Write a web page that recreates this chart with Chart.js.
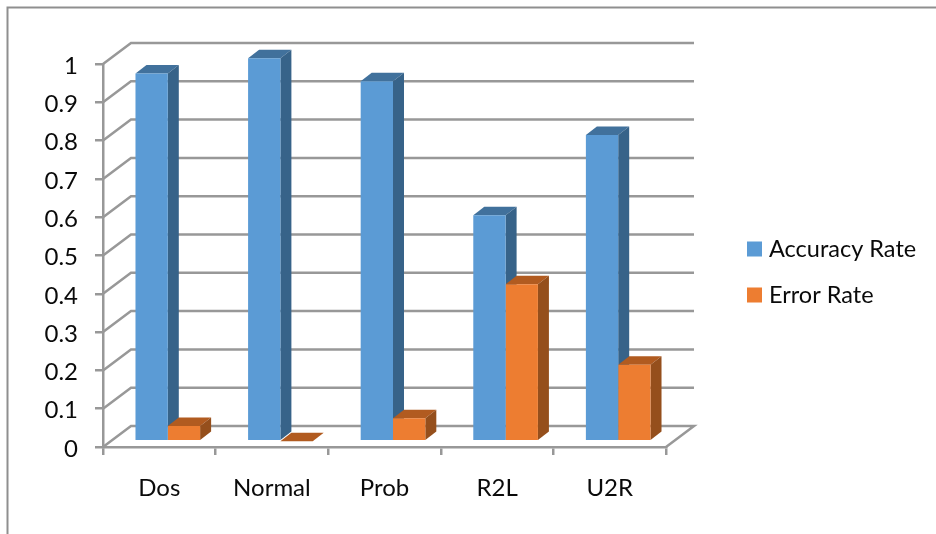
<!doctype html>
<html lang="en">
  <head>
    <meta charset="utf-8">
    <style>
      html, body { margin: 0; padding: 0; background: #fff; }
      #wrap { width: 936px; height: 534px; }
    </style>
    <script src="https://cdn.jsdelivr.net/npm/chart.js@4/dist/chart.umd.min.js"></script>
  </head>
  <body>
    <div id="wrap"><canvas id="chart" width="936" height="534"></canvas></div>
    <script>
      const categories = ["Dos", "Normal", "Prob", "R2L", "U2R"];
      const accuracyRate = [0.96, 1, 0.94, 0.59, 0.8];
      const errorRate = [0.04, 0, 0.06, 0.41, 0.2];
      const yTickLabels = ["0", "0.1", "0.2", "0.3", "0.4", "0.5", "0.6", "0.7", "0.8", "0.9", "1"];

      const FONT = "Lato";
      const GRID = "#989898";
      const TEXT = "#0a0a0a";

      //how far the back wall sits from the front plane
      const WALL_X = 28, WALL_Y = -21;
      //bars stand on the floor, a bit inside the front edge
      const BAR_X = 8.5, BAR_Y = -5.7;
      //depth of the bars themselves
      const DEPTH_X = 11, DEPTH_Y = -8.5;

      const sideColors = [
        { top: "#41719c", side: "#376389" },
        { top: "#b15b20", side: "#954f1c" }
      ];

      function poly(ctx, pts, color) {
        ctx.fillStyle = color;
        ctx.beginPath();
        pts.forEach((p, i) => i ? ctx.lineTo(p[0], p[1]) : ctx.moveTo(p[0], p[1]));
        ctx.closePath();
        ctx.fill();
      }

      const fake3d = {
        id: "fake3d",
        beforeDraw(chart) {
          const ctx = chart.ctx;
          //outer frame, the right and bottom side are cut off in the original
          ctx.save();
          ctx.strokeStyle = "#8f8f8f";
          ctx.lineWidth = 2;
          ctx.beginPath();
          ctx.moveTo(7.5, 534);
          ctx.lineTo(7.5, 7.5);
          ctx.lineTo(936, 7.5);
          ctx.stroke();
          ctx.restore();
        },
        beforeDatasetsDraw(chart) {
          const ctx = chart.ctx;
          const area = chart.chartArea;
          const y = chart.scales.y;

          //wall lines and the floor
          ctx.save();
          ctx.strokeStyle = GRID;
          ctx.lineWidth = 2.5;
          y.ticks.forEach((t) => {
            const py = y.getPixelForValue(t.value);
            ctx.beginPath();
            ctx.moveTo(area.left, py);
            ctx.lineTo(area.left + WALL_X, py + WALL_Y);
            ctx.lineTo(area.right + WALL_X, py + WALL_Y);
            if (t.value === 0) ctx.lineTo(area.right, py);
            ctx.stroke();
          });
          ctx.restore();

          //the bars are moved as a whole, restored in afterDatasetsDraw
          ctx.save();
          ctx.translate(BAR_X, BAR_Y);
          chart.data.datasets.forEach((ds, i) => {
            chart.getDatasetMeta(i).data.forEach((bar) => {
              const l = bar.x - bar.width / 2, r = bar.x + bar.width / 2;
              poly(ctx, [[l, bar.y], [l + DEPTH_X, bar.y + DEPTH_Y], [r + DEPTH_X, bar.y + DEPTH_Y], [r, bar.y]], sideColors[i].top);
              if (bar.base > bar.y) {
                poly(ctx, [[r, bar.y], [r + DEPTH_X, bar.y + DEPTH_Y], [r + DEPTH_X, bar.base + DEPTH_Y], [r, bar.base]], sideColors[i].side);
              }
            });
          });
        },
        afterDatasetsDraw(chart) {
          chart.ctx.restore();
        },
        afterDraw(chart) {
          //legend on the right
          const ctx = chart.ctx;
          const rows = [249, 295];
          ctx.save();
          ctx.font = "23.5px " + FONT;
          ctx.textBaseline = "middle";
          chart.data.datasets.forEach((ds, i) => {
            ctx.fillStyle = ds.backgroundColor;
            ctx.fillRect(747, rows[i] - 7.5, 15, 15);
            ctx.fillStyle = TEXT;
            ctx.fillText(ds.label, 769, rows[i]);
          });
          ctx.restore();
        }
      };

      new Chart(document.getElementById("chart"), {
        type: "bar",
        plugins: [fake3d],
        data: {
          labels: categories,
          datasets: [
            { label: "Accuracy Rate", data: accuracyRate, backgroundColor: "#5b9bd5", clip: false },
            { label: "Error Rate", data: errorRate, backgroundColor: "#ed7d31", clip: false }
          ]
        },
        options: {
          responsive: false,
          animation: false,
          layout: { padding: { left: 0, right: 270, top: 64, bottom: 0 } },
          datasets: { bar: { categoryPercentage: 0.574, barPercentage: 1 } },
          plugins: { legend: { display: false }, tooltip: { enabled: false } },
          scales: {
            x: {
              afterFit: (scale) => { scale.height = 87; },
              grid: { drawOnChartArea: false, color: GRID, lineWidth: 2.5, tickLength: 8 },
              border: { color: GRID, width: 2.5 },
              ticks: { color: TEXT, padding: 19, maxRotation: 0, font: { family: FONT, size: 24 } }
            },
            y: {
              min: 0,
              max: 1,
              afterFit: (scale) => { scale.width = 103; },
              grid: { drawOnChartArea: false, color: GRID, lineWidth: 2.5, tickLength: 8 },
              border: { color: GRID, width: 2.5 },
              ticks: {
                stepSize: 0.1,
                color: TEXT,
                padding: 17,
                labelOffset: 2,
                font: { family: FONT, size: 24 },
                callback: (value, index) => yTickLabels[index]
              }
            }
          }
        }
      });
    </script>
  </body>
</html>
